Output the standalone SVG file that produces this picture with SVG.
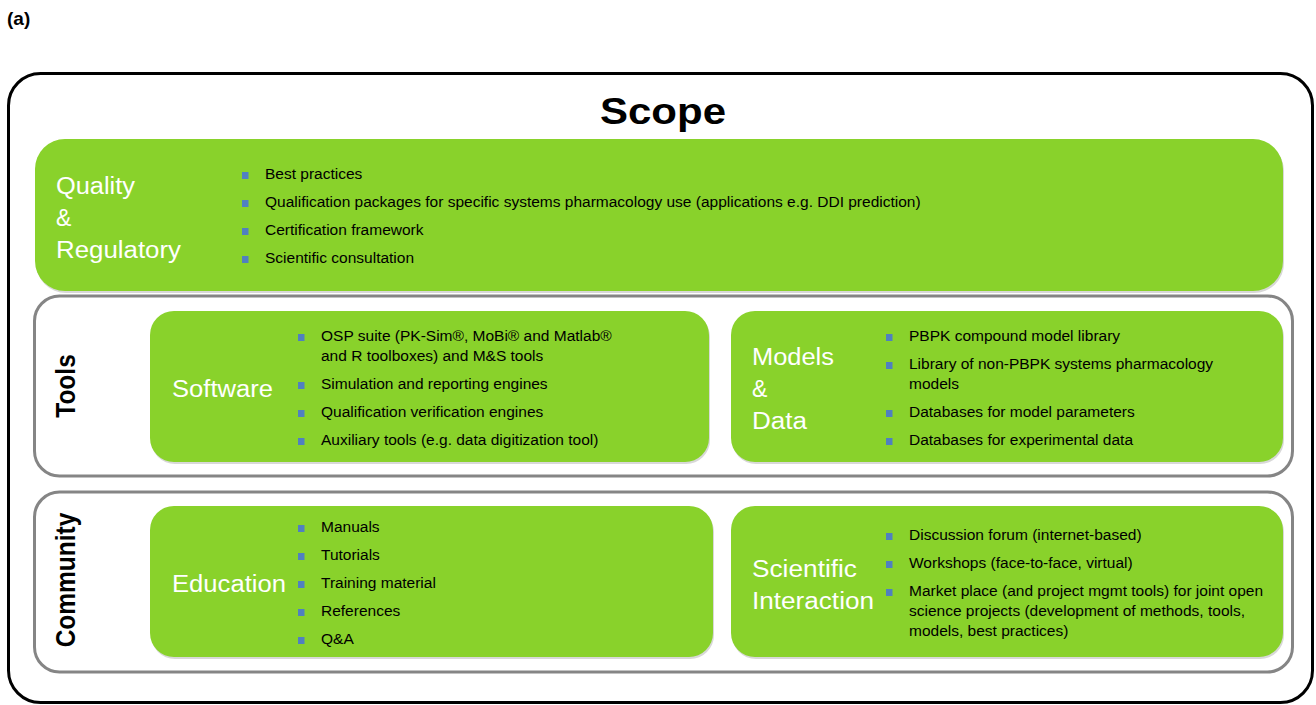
<svg xmlns="http://www.w3.org/2000/svg" width="1316" height="705" viewBox="0 0 1316 705">
<style>
.outer{fill:#fff;stroke:#000;stroke-width:3}
.band{fill:#fff;stroke:#858585;stroke-width:3}
.green{fill:#89d22b}
.shadow{fill:#d8d8d8}
.title{font-family:"Liberation Sans",Arial,sans-serif;font-size:23px;fill:#fff}
.item{font-family:"Liberation Sans",Arial,sans-serif;font-size:15.5px;fill:#000}
.bul{fill:#5080c0}
.side{font-family:"Liberation Sans",Arial,sans-serif;font-size:24.5px;font-weight:bold;fill:#000}
.head{font-family:"Liberation Sans",Arial,sans-serif;font-weight:bold;fill:#000}
</style>
<rect width="1316" height="705" fill="#fff"/>
<text class="head" x="7" y="25" font-size="19">(a)</text>
<g id="scope">
<rect class="outer" x="8.5" y="73.5" width="1304" height="629" rx="32"/>
<text class="head" x="600" y="124" font-size="36" textLength="126" lengthAdjust="spacingAndGlyphs">Scope</text>
</g>
<g id="quality">
<rect class="shadow" x="36" y="141" width="1248" height="152" rx="30"/>
<rect class="green" x="35" y="139" width="1248" height="152" rx="30"/>
<text class="title" x="56" y="194" textLength="79" lengthAdjust="spacingAndGlyphs">Quality</text>
<text class="title" x="56" y="226">&amp;</text>
<text class="title" x="56" y="258" textLength="125" lengthAdjust="spacingAndGlyphs">Regulatory</text>
<rect class="bul" x="242" y="172" width="6.5" height="7"/>
<rect class="bul" x="242" y="200" width="6.5" height="7"/>
<rect class="bul" x="242" y="228" width="6.5" height="7"/>
<rect class="bul" x="242" y="256" width="6.5" height="7"/>
<text class="item" x="265" y="179">Best practices</text>
<text class="item" x="265" y="207">Qualification packages for specific systems pharmacology use (applications e.g. DDI prediction)</text>
<text class="item" x="265" y="235">Certification framework</text>
<text class="item" x="265" y="263">Scientific consultation</text>
</g>
<g id="tools">
<rect class="band" x="34.5" y="296" width="1258" height="180" rx="25"/>
<text class="side" transform="translate(75,386) scale(1.1,1) rotate(-90)" text-anchor="middle">Tools</text>
</g>
<g id="software">
<rect class="shadow" x="151" y="313" width="559" height="151" rx="24"/>
<rect class="green" x="150" y="311" width="559" height="151" rx="24"/>
<text class="title" x="172" y="397" textLength="101" lengthAdjust="spacingAndGlyphs">Software</text>
<rect class="bul" x="298" y="334" width="6.5" height="7"/>
<rect class="bul" x="298" y="382" width="6.5" height="7"/>
<rect class="bul" x="298" y="410" width="6.5" height="7"/>
<rect class="bul" x="298" y="438" width="6.5" height="7"/>
<text class="item" x="321" y="341">OSP suite (PK-Sim®, MoBi® and Matlab®</text>
<text class="item" x="321" y="361">and R toolboxes) and M&amp;S tools</text>
<text class="item" x="321" y="389">Simulation and reporting engines</text>
<text class="item" x="321" y="417">Qualification verification engines</text>
<text class="item" x="321" y="445">Auxiliary tools (e.g. data digitization tool)</text>
</g>
<g id="models">
<rect class="shadow" x="732" y="313" width="552" height="151" rx="24"/>
<rect class="green" x="731" y="311" width="552" height="151" rx="24"/>
<text class="title" x="752" y="365" textLength="82" lengthAdjust="spacingAndGlyphs">Models</text>
<text class="title" x="752" y="397">&amp;</text>
<text class="title" x="752" y="429" textLength="55" lengthAdjust="spacingAndGlyphs">Data</text>
<rect class="bul" x="886" y="334" width="6.5" height="7"/>
<rect class="bul" x="886" y="362" width="6.5" height="7"/>
<rect class="bul" x="886" y="410" width="6.5" height="7"/>
<rect class="bul" x="886" y="438" width="6.5" height="7"/>
<text class="item" x="909" y="341">PBPK compound model library</text>
<text class="item" x="909" y="369">Library of non-PBPK systems pharmacology</text>
<text class="item" x="909" y="389">models</text>
<text class="item" x="909" y="417">Databases for model parameters</text>
<text class="item" x="909" y="445">Databases for experimental data</text>
</g>
<g id="community">
<rect class="band" x="34.5" y="492" width="1258" height="180" rx="25"/>
<text class="side" transform="translate(75,580) scale(1.1,1) rotate(-90)" text-anchor="middle">Community</text>
</g>
<g id="education">
<rect class="shadow" x="151" y="508" width="563" height="151" rx="24"/>
<rect class="green" x="150" y="506" width="563" height="151" rx="24"/>
<text class="title" x="172" y="592" textLength="114" lengthAdjust="spacingAndGlyphs">Education</text>
<rect class="bul" x="298" y="525" width="6.5" height="7"/>
<rect class="bul" x="298" y="553" width="6.5" height="7"/>
<rect class="bul" x="298" y="581" width="6.5" height="7"/>
<rect class="bul" x="298" y="609" width="6.5" height="7"/>
<rect class="bul" x="298" y="637" width="6.5" height="7"/>
<text class="item" x="321" y="532">Manuals</text>
<text class="item" x="321" y="560">Tutorials</text>
<text class="item" x="321" y="588">Training material</text>
<text class="item" x="321" y="616">References</text>
<text class="item" x="321" y="644">Q&amp;A</text>
</g>
<g id="scientific-interaction">
<rect class="shadow" x="732" y="508" width="552" height="151" rx="24"/>
<rect class="green" x="731" y="506" width="552" height="151" rx="24"/>
<text class="title" x="752" y="577" textLength="105" lengthAdjust="spacingAndGlyphs">Scientific</text>
<text class="title" x="752" y="609" textLength="122" lengthAdjust="spacingAndGlyphs">Interaction</text>
<rect class="bul" x="886" y="533" width="6.5" height="7"/>
<rect class="bul" x="886" y="561" width="6.5" height="7"/>
<rect class="bul" x="886" y="589" width="6.5" height="7"/>
<text class="item" x="909" y="540">Discussion forum (internet-based)</text>
<text class="item" x="909" y="568">Workshops (face-to-face, virtual)</text>
<text class="item" x="909" y="596">Market place (and project mgmt tools) for joint open</text>
<text class="item" x="909" y="616">science projects (development of methods, tools,</text>
<text class="item" x="909" y="636">models, best practices)</text>
</g>
<g id="connectors"></g>
</svg>
